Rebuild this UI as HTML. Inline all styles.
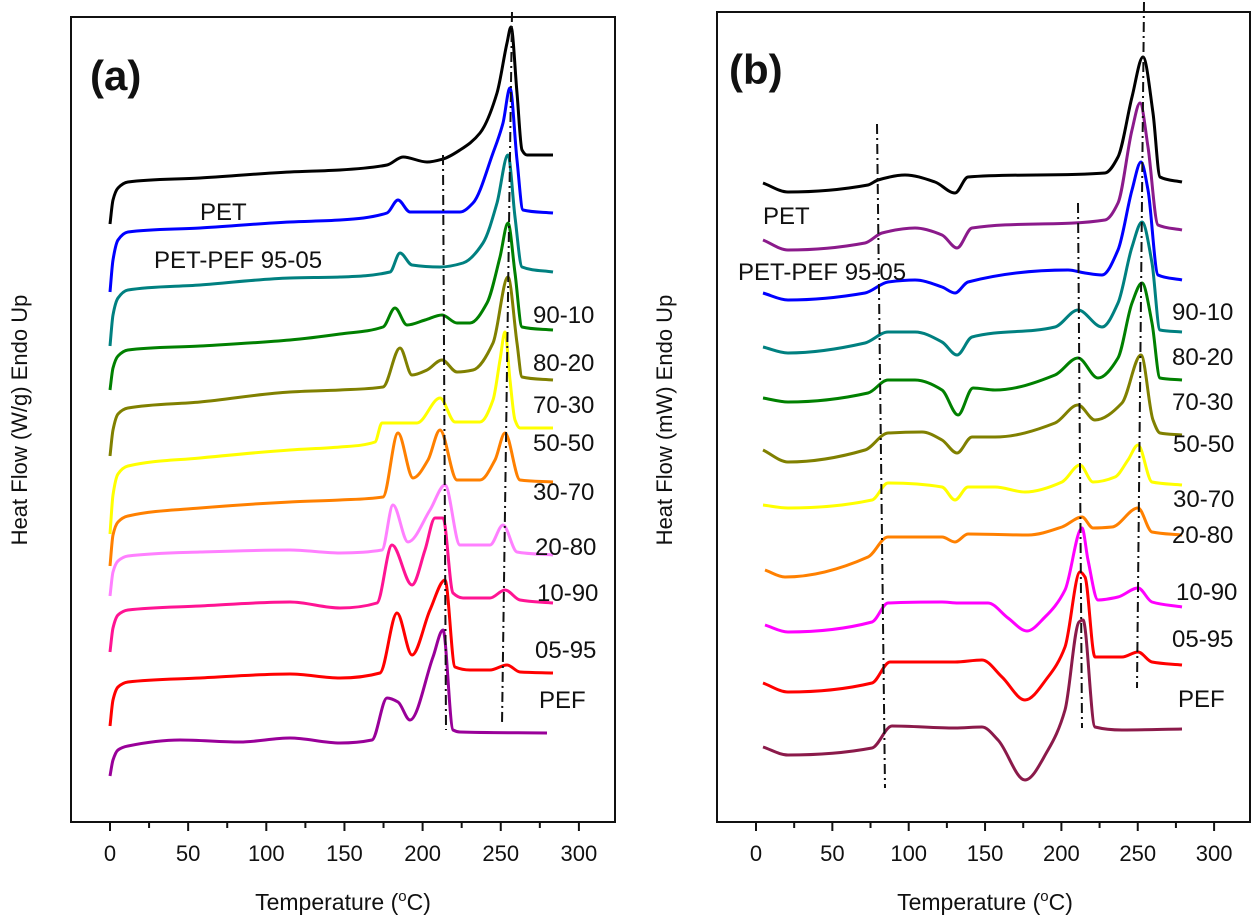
<!DOCTYPE html>
<html><head><meta charset="utf-8"><style>
html,body{margin:0;padding:0;background:#fff}
svg{display:block}
text{font-family:"Liberation Sans",Arial,sans-serif;fill:#111}
</style></head><body>
<svg id="s" width="1260" height="921" xmlns="http://www.w3.org/2000/svg">
<g id="g"></g>
<rect x="71" y="17" width="544" height="805" fill="none" stroke="#111" stroke-width="2"/>
<rect x="717" y="12" width="533" height="810" fill="none" stroke="#111" stroke-width="2"/>
<g id="ticks" stroke="#111" stroke-width="2"></g>
<g font-size="22" text-anchor="middle" id="tl"></g>
<text x="343" y="910" font-size="23" text-anchor="middle">Temperature (<tspan dy="-9" font-size="15">o</tspan><tspan dy="9">C)</tspan></text>
<text x="985" y="910" font-size="23" text-anchor="middle">Temperature (<tspan dy="-9" font-size="15">o</tspan><tspan dy="9">C)</tspan></text>
<text transform="translate(27,420) rotate(-90)" font-size="22" text-anchor="middle">Heat Flow (W/g) Endo Up</text>
<text transform="translate(672,420) rotate(-90)" font-size="22" text-anchor="middle">Heat Flow (mW) Endo Up</text>
<text x="90" y="90" font-size="42" font-weight="bold">(a)</text>
<text x="729" y="84" font-size="42" font-weight="bold">(b)</text>
<g font-size="24">
<text x="200" y="220">PET</text>
<text x="154" y="268">PET-PEF 95-05</text>
<text x="533" y="323">90-10</text>
<text x="533" y="371">80-20</text>
<text x="533" y="413">70-30</text>
<text x="533" y="451">50-50</text>
<text x="533" y="500">30-70</text>
<text x="535" y="555">20-80</text>
<text x="537" y="601">10-90</text>
<text x="535" y="658">05-95</text>
<text x="539" y="708">PEF</text>
<text x="763" y="224">PET</text>
<text x="738" y="280">PET-PEF 95-05</text>
<text x="1172" y="320">90-10</text>
<text x="1172" y="365">80-20</text>
<text x="1172" y="410">70-30</text>
<text x="1173" y="452">50-50</text>
<text x="1173" y="507">30-70</text>
<text x="1172" y="543">20-80</text>
<text x="1176" y="600">10-90</text>
<text x="1172" y="647">05-95</text>
<text x="1178" y="707">PEF</text>
</g>
<g stroke="#111" stroke-width="2" stroke-dasharray="10,4,2,4" fill="none">
<line x1="443" y1="155" x2="446" y2="730"/>
<line x1="512" y1="12" x2="502" y2="725"/>
<line x1="877" y1="124" x2="885" y2="788"/>
<line x1="1078" y1="203" x2="1082" y2="728"/>
<line x1="1144" y1="2" x2="1137" y2="688"/>
</g>
</svg>
<script>
var NS="http://www.w3.org/2000/svg";
var g=document.getElementById("g"),tk=document.getElementById("ticks"),tl=document.getElementById("tl");
function el(p,n,a){var e=document.createElementNS(NS,n);for(var k in a)e.setAttribute(k,a[k]);p.appendChild(e);return e;}
function axis(x0,sc,L,R){for(var t=-25;t<=325;t+=25){var x=x0+t*sc;if(x<L+1||x>R-1)continue;var big=t%50==0;el(tk,"line",{x1:x,y1:822,x2:x,y2:822+(big?9:6)});if(big&&t>=0&&t<=300){var e=el(tl,"text",{x:x,y:861});e.textContent=t;}}}
axis(110,1.563,71,615);axis(756,1.527,717,1250);
function mono(p){var n=p.length,dx=[],m=[],t=[];for(var i=0;i<n-1;i++){dx[i]=p[i+1][0]-p[i][0];m[i]=(p[i+1][1]-p[i][1])/dx[i];}
t[0]=m[0];t[n-1]=m[n-2];for(var i=1;i<n-1;i++){if(m[i-1]*m[i]<=0)t[i]=0;else{var w1=2*dx[i]+dx[i-1],w2=dx[i]+2*dx[i-1];t[i]=(w1+w2)/(w1/m[i-1]+w2/m[i]);}}
var d="M"+p[0][0]+","+p[0][1];for(var i=0;i<n-1;i++){var h=dx[i]/3;d+=" C"+(p[i][0]+h)+","+(p[i][1]+t[i]*h)+" "+(p[i+1][0]-h)+","+(p[i+1][1]-t[i+1]*h)+" "+p[i+1][0]+","+p[i+1][1];}return d;}
function dr(c,p){el(g,"path",{d:mono(p),fill:"none",stroke:c,"stroke-width":3,"stroke-linejoin":"round"});}
// panel a
dr("#000",[[110,224],[113,200],[118,188],[128,182],[200,178],[290,172],[340,170],[387,165],[403,157],[427,162],[443,159],[460,150],[480,133],[497,93],[507,43],[511,27],[517,93],[522,150],[527,155],[553,155]]);
dr("#0000ff",[[110,292],[113,260],[118,240],[128,232],[200,228],[290,222],[340,220],[387,213],[398,200],[410,212],[460,212],[473,203],[493,153],[503,123],[510,88],[517,160],[523,210],[553,213]]);
dr("#008080",[[110,346],[113,315],[118,298],[128,290],[200,285],[290,278],[340,277],[390,272],[400,253],[412,265],[440,267],[463,263],[483,243],[497,203],[508,155],[515,217],[522,267],[553,272]]);
dr("#008000",[[110,390],[113,368],[118,356],[128,350],[200,346],[290,340],[340,334],[383,327],[395,308],[407,325],[425,320],[442,315],[457,323],[470,323],[487,303],[500,257],[508,223],[515,273],[522,327],[553,330]]);
dr("#808000",[[110,456],[113,430],[118,414],[128,408],[200,402],[290,392],[340,390],[383,387],[400,348],[412,375],[427,370],[442,360],[457,372],[473,370],[493,343],[508,277],[517,343],[522,377],[553,380]]);
dr("#ffff00",[[110,534],[113,495],[118,474],[128,466],[200,458],[290,450],[340,447],[375,442],[382,423],[417,423],[440,398],[455,422],[480,422],[493,400],[500,360],[505,332],[510,380],[515,420],[520,428],[553,428]]);
dr("#ff8000",[[110,566],[113,535],[118,522],[128,516],[200,508],[290,502],[340,500],[383,497],[398,433],[413,478],[428,460],[440,430],[457,480],[480,480],[495,460],[505,433],[520,480],[553,482]]);
dr("#ff80ff",[[110,596],[113,572],[118,561],[128,556],[200,552],[290,550],[340,553],[382,550],[393,505],[408,542],[430,510],[445,485],[460,545],[490,545],[503,525],[517,552],[553,555]]);
dr("#ff1493",[[110,652],[113,628],[118,615],[128,610],[200,606],[290,602],[340,608],[377,603],[392,545],[412,585],[425,550],[435,518],[443,518],[453,593],[463,598],[490,598],[505,590],[520,600],[553,603]]);
dr("#ff0000",[[110,726],[113,700],[118,687],[128,682],[200,678],[290,674],[340,678],[380,673],[397,613],[412,655],[430,610],[445,580],[455,667],[470,670],[490,670],[507,665],[520,672],[553,673]]);
dr("#990099",[[110,776],[113,760],[118,750],[128,746],[180,740],[240,742],[290,738],[340,743],[372,740],[387,698],[398,702],[410,720],[433,657],[443,630],[453,730],[460,732],[547,733]]);
// panel b
dr("#000",[[763,183],[788,192],[868,185],[878,180],[905,175],[935,182],[955,193],[968,177],[1105,173],[1118,157],[1132,97],[1143,57],[1153,113],[1160,177],[1182,182]]);
dr("#8b1a8b",[[763,240],[788,250],[865,243],[882,233],[915,228],[942,235],[957,248],[972,228],[1105,220],[1118,203],[1132,130],[1140,103],[1148,147],[1158,225],[1182,230]]);
dr("#0000ff",[[763,293],[788,300],[865,293],[888,282],[915,280],[942,287],[955,293],[968,282],[1068,270],[1085,273],[1102,275],[1118,250],[1132,190],[1141,162],[1148,190],[1158,275],[1182,280]]);
dr("#008080",[[763,347],[788,353],[865,343],[888,332],[915,332],[942,342],[957,355],[972,337],[1055,327],[1078,310],[1102,327],[1118,303],[1132,247],[1142,222],[1152,263],[1160,330],[1182,332]]);
dr("#008000",[[763,398],[788,402],[868,393],[888,380],[915,380],[942,390],[958,415],[973,388],[995,390],[1055,375],[1078,358],[1098,378],[1118,358],[1132,303],[1142,283],[1152,323],[1160,378],[1182,380]]);
dr("#808000",[[763,450],[788,462],[865,450],[888,433],[922,432],[942,440],[957,453],[972,437],[995,437],[1055,423],[1078,405],[1095,420],[1122,403],[1141,355],[1153,420],[1160,433],[1182,435]]);
dr("#ffff00",[[763,505],[788,508],[872,500],[888,483],[942,487],[955,500],[968,487],[995,487],[1025,492],[1062,482],[1080,465],[1093,482],[1115,477],[1128,460],[1138,445],[1152,482],[1182,485]]);
dr("#ff8000",[[765,570],[785,577],[868,557],[888,537],[942,537],[955,542],[968,534],[1028,535],[1062,527],[1082,517],[1093,528],[1112,527],[1138,508],[1152,532],[1182,535]]);
dr("#ff00ff",[[765,625],[788,632],[872,622],[888,603],[942,602],[958,603],[988,603],[1008,618],[1027,631],[1045,617],[1065,590],[1082,528],[1088,560],[1098,600],[1118,597],[1138,588],[1152,602],[1182,607]]);
dr("#ff0000",[[763,683],[788,692],[872,683],[890,662],[955,662],[982,660],[1002,677],[1025,700],[1048,677],[1065,647],[1080,572],[1085,577],[1095,657],[1122,657],[1138,652],[1152,662],[1182,665]]);
dr("#8b1a4a",[[763,747],[788,755],[872,748],[892,726],[955,728],[982,727],[998,740],[1025,780],[1048,750],[1065,710],[1079,622],[1083,620],[1095,727],[1122,730],[1182,729]]);
</script>
</body></html>
